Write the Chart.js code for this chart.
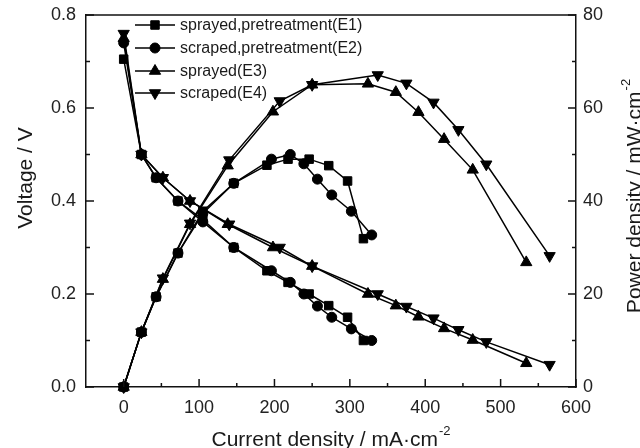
<!DOCTYPE html>
<html>
<head>
<meta charset="utf-8">
<script src="https://cdn.jsdelivr.net/npm/chart.js"></script>
<style>
  html, body { margin: 0; padding: 0; background: #fff; }
  #myChart { display: block; }
</style>
</head>
<body>
<canvas id="myChart" width="640" height="448"></canvas>
<script>
// series names
var seriesNames = ["sprayed,pretreatment(E1)", "scraped,pretreatment(E2)", "sprayed(E3)", "scraped(E4)"];

// E1 - sprayed, pretreatment
var e1Current = [0, 23.5, 43, 72, 105, 146, 190, 218, 246, 272, 297, 318];
var e1Voltage = [0.705, 0.50, 0.45, 0.40, 0.36, 0.30, 0.25, 0.225, 0.20, 0.175, 0.15, 0.10];
var e1Power   = [0, 11.8, 19.4, 28.8, 37.8, 43.8, 47.7, 49.0, 49.0, 47.6, 44.3, 31.9];

// E2 - scraped, pretreatment
var e2Current = [0, 23.5, 43, 72, 105, 146, 196, 221, 239, 257, 276, 302, 329];
var e2Voltage = [0.74, 0.50, 0.45, 0.40, 0.355, 0.30, 0.25, 0.225, 0.20, 0.174, 0.15, 0.125, 0.10];
var e2Power   = [0, 11.8, 19.4, 28.8, 37.3, 43.8, 49.0, 50.0, 48.0, 44.7, 41.3, 37.8, 32.7];

// E3 - sprayed
var e3Current = [0, 23.5, 52, 88, 138, 198, 250, 324, 361, 391, 425, 463, 534];
var e3Voltage = [0.75, 0.50, 0.45, 0.40, 0.35, 0.30, 0.26, 0.20, 0.175, 0.151, 0.126, 0.101, 0.051];
var e3Power   = [0, 11.8, 23.2, 35.0, 47.6, 59.2, 65.0, 65.2, 63.4, 59.1, 53.3, 46.7, 26.8];

// E4 - scraped
var e4Current = [0, 23.5, 52, 88, 140, 207, 250, 337, 375, 411, 444, 481, 565];
var e4Voltage = [0.76, 0.50, 0.45, 0.40, 0.35, 0.30, 0.26, 0.20, 0.173, 0.148, 0.123, 0.097, 0.048];
var e4Power   = [0, 11.8, 23.4, 35.2, 48.8, 61.5, 65.0, 67.1, 65.3, 61.2, 55.3, 47.9, 28.2];

// tick labels
var xTicks = [0, 100, 200, 300, 400, 500, 600];
var xMinor = [50, 150, 250, 350, 450, 550];
var vTicks = [0, 0.2, 0.4, 0.6, 0.8];
var vMinor = [0.1, 0.3, 0.5, 0.7];
var pTicks = [0, 20, 40, 60, 80];
var pMinor = [10, 30, 50, 70];

var FONT = "'Liberation Sans', Arial, sans-serif";
var markers = [
    { pointStyle: 'rect', rotation: 0, radius: 6 },
    { pointStyle: 'circle', rotation: 0, radius: 5 },
    { pointStyle: 'triangle', rotation: 0, radius: 6.5 },
    { pointStyle: 'triangle', rotation: 180, radius: 6.5 }
];

function toPoints(xs, ys) {
    return xs.map(function (x, i) { return { x: x, y: ys[i] }; });
}

function makeSet(idx, xs, ys, axis) {
    var m = markers[idx];
    return {
        label: seriesNames[idx],
        data: toPoints(xs, ys),
        yAxisID: axis,
        showLine: true,
        borderColor: '#000',
        backgroundColor: '#000',
        borderWidth: 1.5,
        pointRadius: m.radius,
        pointStyle: m.pointStyle,
        rotation: m.rotation,
        pointBorderWidth: 1,
        clip: false
    };
}

var currents = [e1Current, e2Current, e3Current, e4Current];
var voltages = [e1Voltage, e2Voltage, e3Voltage, e4Voltage];
var powers = [e1Power, e2Power, e3Power, e4Power];

var datasets = [];
for (var i = 0; i < 4; i++) datasets.push(makeSet(i, currents[i], voltages[i], 'y'));
for (var j = 0; j < 4; j++) datasets.push(makeSet(j, currents[j], powers[j], 'y2'));

// inward tick marks, top frame, legend and axis titles (with superscripts)
var decorations = {
    id: 'decorations',
    afterDraw: function (chart) {
        var ctx = chart.ctx, a = chart.chartArea;
        var sx = chart.scales.x, sv = chart.scales.y, sp = chart.scales.y2;
        ctx.save();
        ctx.strokeStyle = '#111';
        ctx.lineWidth = 1.5;
        var mark = function (x1, y1, x2, y2) {
            ctx.beginPath(); ctx.moveTo(x1, y1); ctx.lineTo(x2, y2); ctx.stroke();
        };
        mark(a.left, a.top, a.right, a.top);
        xTicks.forEach(function (v) { var p = sx.getPixelForValue(v); mark(p, a.bottom, p, a.bottom - 8); });
        xMinor.forEach(function (v) { var p = sx.getPixelForValue(v); mark(p, a.bottom, p, a.bottom - 4); });
        vTicks.forEach(function (v) { var p = sv.getPixelForValue(v); mark(a.left, p, a.left + 8, p); });
        vMinor.forEach(function (v) { var p = sv.getPixelForValue(v); mark(a.left, p, a.left + 4, p); });
        pTicks.forEach(function (v) { var p = sp.getPixelForValue(v); mark(a.right, p, a.right - 8, p); });
        pMinor.forEach(function (v) { var p = sp.getPixelForValue(v); mark(a.right, p, a.right - 4, p); });

        // legend
        var rows = [25, 48, 71, 93];
        ctx.font = '16px ' + FONT;
        ctx.textBaseline = 'middle';
        ctx.textAlign = 'left';
        for (var k = 0; k < 4; k++) {
            var y = rows[k];
            ctx.strokeStyle = '#000';
            ctx.lineWidth = 1.5;
            mark(135, y, 175, y);
            ctx.fillStyle = '#000';
            ctx.lineWidth = 1;
            Chart.helpers.drawPoint(ctx, {
                pointStyle: markers[k].pointStyle,
                rotation: markers[k].rotation,
                radius: markers[k].radius,
                borderWidth: 1
            }, 155, y);
            ctx.fillStyle = '#1a1a1a';
            ctx.fillText(seriesNames[k], 180, y + 1);
        }

        var drawTitle = function (main, sup, cx, cy, rot) {
            ctx.save();
            ctx.translate(cx, cy);
            ctx.rotate(rot);
            ctx.fillStyle = '#1a1a1a';
            ctx.textBaseline = 'alphabetic';
            ctx.textAlign = 'left';
            ctx.font = '21px ' + FONT;
            var w1 = ctx.measureText(main).width;
            ctx.font = '13px ' + FONT;
            var w2 = sup ? ctx.measureText(sup).width + 1 : 0;
            var x0 = -(w1 + w2) / 2;
            ctx.font = '21px ' + FONT;
            ctx.fillText(main, x0, 7);
            if (sup) {
                ctx.font = '13px ' + FONT;
                ctx.fillText(sup, x0 + w1 + 1, -4);
            }
            ctx.restore();
        };
        drawTitle('Voltage / V', '', 25, 178, -Math.PI / 2);
        drawTitle('Current density / mA\u00b7cm', '-2', (a.left + a.right) / 2, 439, 0);
        drawTitle('Power density / mW\u00b7cm', '-2', 634, 196, -Math.PI / 2);
        ctx.restore();
    }
};

var tickFont = { family: FONT, size: 18 };

new Chart("myChart", {
    type: "scatter",
    data: { datasets: datasets },
    plugins: [decorations],
    options: {
        responsive: false,
        animation: false,
        layout: { padding: { top: 15, left: 0, right: 0, bottom: 0 } },
        plugins: {
            legend: { display: false },
            tooltip: { enabled: false }
        },
        scales: {
            x: {
                type: 'linear',
                position: 'bottom',
                min: -50,
                max: 600,
                afterBuildTicks: function (s) { s.ticks = xTicks.map(function (v) { return { value: v }; }); },
                afterFit: function (s) { s.height = 61; },
                ticks: { font: tickFont, color: '#222', padding: 10, maxRotation: 0 },
                grid: { display: false, drawTicks: false },
                border: { display: true, color: '#111', width: 1.5 }
            },
            y: {
                type: 'linear',
                position: 'left',
                min: 0,
                max: 0.8,
                afterBuildTicks: function (s) { s.ticks = vTicks.map(function (v) { return { value: v }; }); },
                afterFit: function (s) { s.width = 86; },
                ticks: { font: tickFont, color: '#222', padding: 0, callback: function (v) { return v.toFixed(1); } },
                grid: { display: false, drawTicks: true, tickLength: 10, color: 'rgba(0,0,0,0)' },
                border: { display: true, color: '#111', width: 1.5 }
            },
            y2: {
                type: 'linear',
                position: 'right',
                min: 0,
                max: 80,
                afterBuildTicks: function (s) { s.ticks = pTicks.map(function (v) { return { value: v }; }); },
                afterFit: function (s) { s.width = 64; },
                ticks: { font: tickFont, color: '#222', padding: 0 },
                grid: { display: false, drawTicks: true, tickLength: 7, color: 'rgba(0,0,0,0)' },
                border: { display: true, color: '#111', width: 1.5 }
            }
        }
    }
});
</script>
</body>
</html>
